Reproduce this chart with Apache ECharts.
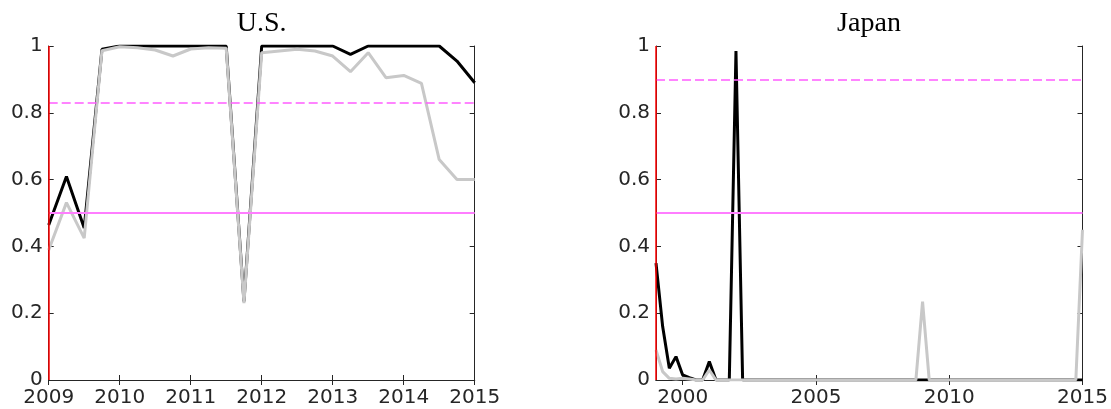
<!DOCTYPE html>
<html>
<head>
<meta charset="utf-8">
<script src="https://cdn.jsdelivr.net/npm/echarts@6/dist/echarts.min.js"></script>
<style>
  html, body { margin: 0; padding: 0; background: #fff; }
  #chart { width: 1111px; height: 409px; }
</style>
</head>
<body>
<div id="chart"></div>
<script>
// U.S. panel, quarterly 2009Q1 - 2015Q1
const usQuarters = [
  '2009Q1', '2009Q2', '2009Q3', '2009Q4',
  '2010Q1', '2010Q2', '2010Q3', '2010Q4',
  '2011Q1', '2011Q2', '2011Q3', '2011Q4',
  '2012Q1', '2012Q2', '2012Q3', '2012Q4',
  '2013Q1', '2013Q2', '2013Q3', '2013Q4',
  '2014Q1', '2014Q2', '2014Q3', '2014Q4',
  '2015Q1'
];
const usBlack = [
  0.464, 0.609, 0.455, 0.99,
  1.0, 1.0, 1.0, 1.0,
  1.0, 1.0, 1.0, 0.235,
  1.0, 1.0, 1.0, 1.0,
  1.0, 0.975, 1.0, 1.0,
  1.0, 1.0, 1.0, 0.955,
  0.89
];
const usGray = [
  0.389, 0.531, 0.425, 0.986,
  0.998, 0.995, 0.988, 0.970,
  0.991, 0.995, 0.993, 0.23,
  0.98, 0.985, 0.99, 0.985,
  0.97, 0.923, 0.98, 0.905,
  0.912, 0.888, 0.66, 0.6,
  0.6
];

// Japan panel, quarterly 1999Q1 - 2015Q1
const jpQuarters = [
  '1999Q1', '1999Q2', '1999Q3', '1999Q4',
  '2000Q1', '2000Q2', '2000Q3', '2000Q4',
  '2001Q1', '2001Q2', '2001Q3', '2001Q4',
  '2002Q1', '2002Q2', '2002Q3', '2002Q4',
  '2003Q1', '2003Q2', '2003Q3', '2003Q4',
  '2004Q1', '2004Q2', '2004Q3', '2004Q4',
  '2005Q1', '2005Q2', '2005Q3', '2005Q4',
  '2006Q1', '2006Q2', '2006Q3', '2006Q4',
  '2007Q1', '2007Q2', '2007Q3', '2007Q4',
  '2008Q1', '2008Q2', '2008Q3', '2008Q4',
  '2009Q1', '2009Q2', '2009Q3', '2009Q4',
  '2010Q1', '2010Q2', '2010Q3', '2010Q4',
  '2011Q1', '2011Q2', '2011Q3', '2011Q4',
  '2012Q1', '2012Q2', '2012Q3', '2012Q4',
  '2013Q1', '2013Q2', '2013Q3', '2013Q4',
  '2014Q1', '2014Q2', '2014Q3', '2014Q4',
  '2015Q1'
];
const jpBlack = [
  0.35, 0.16, 0.035, 0.07,
  0.015, 0.007, 0, 0,
  0.055, 0, 0, 0,
  0.985, 0, 0, 0,
  0, 0, 0, 0,
  0, 0, 0, 0,
  0, 0, 0, 0,
  0, 0, 0, 0,
  0, 0, 0, 0,
  0, 0, 0, 0,
  0, 0, 0, 0,
  0, 0, 0, 0,
  0, 0, 0, 0,
  0, 0, 0, 0,
  0, 0, 0, 0,
  0, 0, 0, 0,
  0
];
const jpGray = [
  0.09, 0.025, 0.005, 0.003,
  0.005, 0.003, 0, 0,
  0.03, 0, 0, 0,
  0, 0, 0, 0,
  0, 0, 0, 0,
  0, 0, 0, 0,
  0, 0, 0, 0,
  0, 0, 0, 0,
  0, 0, 0, 0,
  0, 0, 0, 0,
  0.235, 0, 0, 0,
  0, 0, 0, 0,
  0, 0, 0, 0,
  0, 0, 0, 0,
  0, 0, 0, 0,
  0, 0, 0, 0,
  0.45
];

const yTicks = [0, 0.2, 0.4, 0.6, 0.8, 1];
const usYears = [2009, 2010, 2011, 2012, 2013, 2014, 2015];
const jpYears = [2000, 2005, 2010, 2015];

const usStart = 2009, usEnd = 2015, usUpper = 0.83;
const jpStart = 1999, jpEnd = 2015, jpUpper = 0.9;

const axisColor = '#262626';
const labelFont = { color: axisColor, fontFamily: 'DejaVu Sans', fontSize: 20 };

// '2009Q3' -> 2009.5
const toYear = q => Number(q.slice(0, 4)) + (Number(q.slice(5)) - 1) / 4;
const pairs = (qs, vals) => qs.map((q, i) => [toYear(q), vals[i]]);

const xAxisPair = (gi, min, max, ticks) => [
  {
    type: 'value', gridIndex: gi, position: 'bottom', min: min, max: max,
    axisLine: { show: true, lineStyle: { color: axisColor, width: 1 } },
    axisTick: { show: true, inside: true, length: 5, customValues: ticks, lineStyle: { color: axisColor } },
    axisLabel: Object.assign({ margin: 8, customValues: ticks, formatter: v => String(v) }, labelFont),
    splitLine: { show: false }
  },
  {
    type: 'value', gridIndex: gi, position: 'top', min: min, max: max,
    axisLine: { show: true, lineStyle: { color: axisColor, width: 1 } },
    axisTick: { show: true, inside: true, length: 5, customValues: ticks, lineStyle: { color: axisColor } },
    axisLabel: { show: false },
    splitLine: { show: false }
  }
];

const yAxisPair = gi => [
  {
    type: 'value', gridIndex: gi, position: 'left', min: 0, max: 1, interval: 0.2,
    axisLine: { show: true, lineStyle: { color: axisColor, width: 1 } },
    axisTick: { show: true, inside: true, length: 5, lineStyle: { color: axisColor } },
    axisLabel: Object.assign({ margin: 6, customValues: yTicks }, labelFont),
    splitLine: { show: false }
  },
  {
    type: 'value', gridIndex: gi, position: 'right', min: 0, max: 1, interval: 0.2,
    axisLine: { show: true, lineStyle: { color: axisColor, width: 1 } },
    axisTick: { show: true, inside: true, length: 5, lineStyle: { color: axisColor } },
    axisLabel: { show: false },
    splitLine: { show: false }
  }
];

const refLines = (start, upper) => ({
  symbol: ['none', 'none'],
  silent: true,
  label: { show: false },
  animation: false,
  data: [
    { yAxis: 0.5, lineStyle: { color: '#ff7dff', width: 2, type: 'solid' } },
    { yAxis: upper, lineStyle: { color: '#ff5cff', width: 1.5, type: [9, 4] } },
    { xAxis: start, lineStyle: { color: '#ff0000', width: 1.5, type: 'solid' } }
  ]
});

const lineSeries = (xi, yi, data, color, z, marks) => ({
  type: 'line', xAxisIndex: xi, yAxisIndex: yi, data: data,
  showSymbol: false, symbol: 'none', z: z,
  lineStyle: { color: color, width: 3 },
  markLine: marks
});

const titleStyle = { fontFamily: 'Liberation Serif', fontWeight: 'normal', fontSize: 28, color: '#000' };

const chart = echarts.init(document.getElementById('chart'));
chart.setOption({
  animation: false,
  backgroundColor: '#ffffff',
  title: [
    { text: 'U.S.', left: 261.7, top: 10, textAlign: 'center', padding: 0, textStyle: titleStyle },
    { text: 'Japan', left: 869, top: 10, textAlign: 'center', padding: 0, textStyle: titleStyle }
  ],
  grid: [
    { left: 48.7, top: 46, width: 426, height: 334 },
    { left: 656, top: 46, width: 426.5, height: 334 }
  ],
  xAxis: [].concat(xAxisPair(0, usStart, usEnd, usYears), xAxisPair(1, jpStart, jpEnd, jpYears)),
  yAxis: [].concat(yAxisPair(0), yAxisPair(1)),
  series: [
    lineSeries(0, 0, pairs(usQuarters, usBlack), '#000000', 2),
    lineSeries(0, 0, pairs(usQuarters, usGray), '#c8c8c8', 3, refLines(usStart, usUpper)),
    lineSeries(2, 2, pairs(jpQuarters, jpBlack), '#000000', 2),
    lineSeries(2, 2, pairs(jpQuarters, jpGray), '#c8c8c8', 3, refLines(jpStart, jpUpper))
  ]
});
window.addEventListener('resize', () => chart.resize());
</script>
</body>
</html>
